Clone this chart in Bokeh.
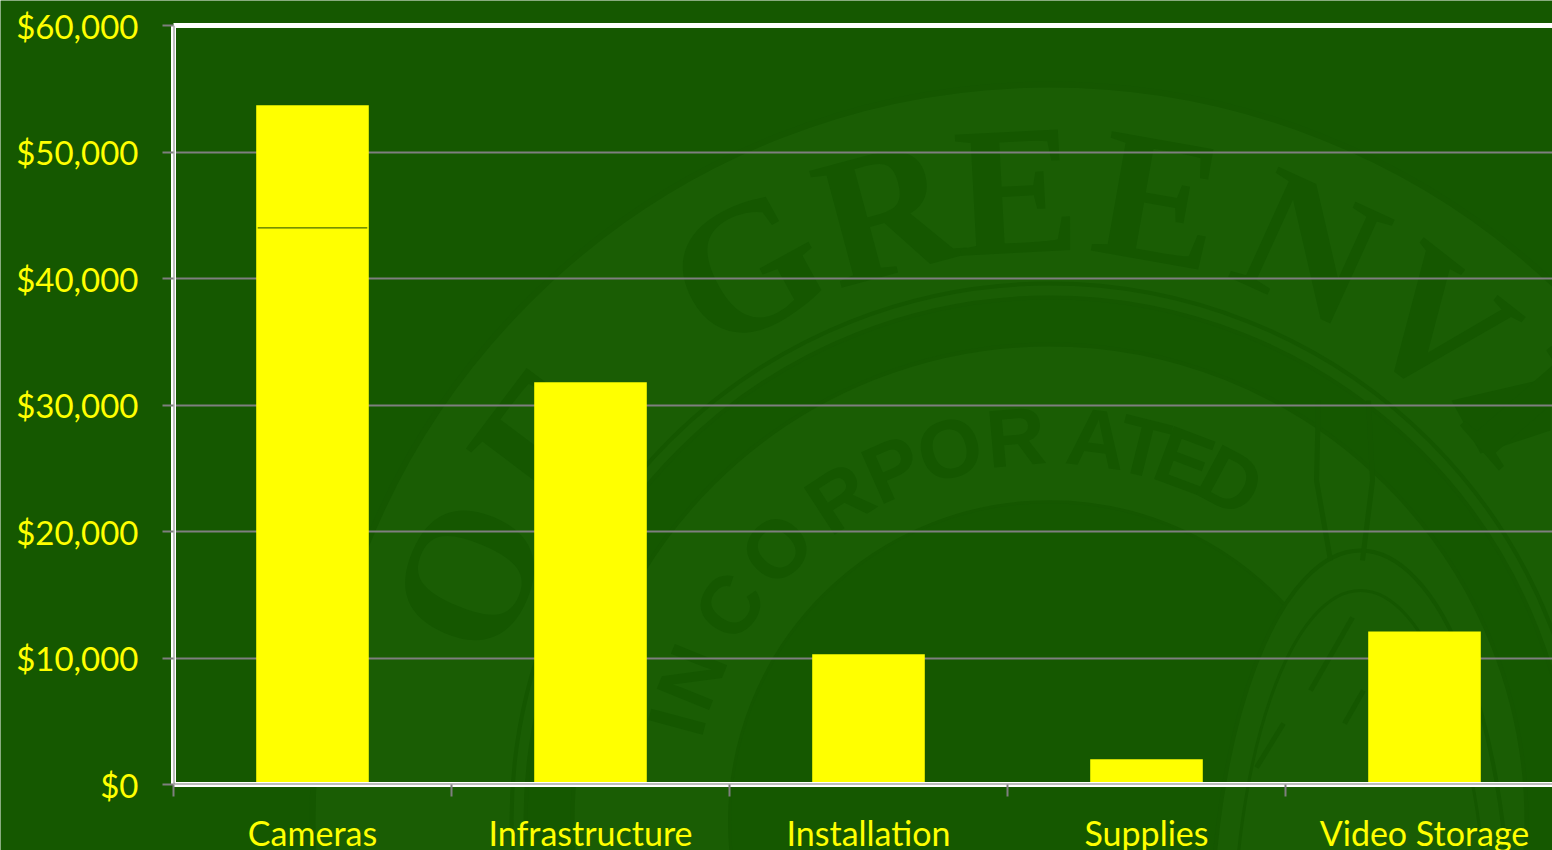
import math

from bokeh.core.properties import value
from bokeh.embed import file_html
from bokeh.models import FixedTicker, LinearAxis, NumeralTickFormatter, Range1d, Span
from bokeh.plotting import figure
from bokeh.resources import INLINE

# Spending by category
categories = ["Cameras", "Infrastructure", "Installation", "Supplies", "Video Storage"]
base_spend = [44000, 31800, 10300, 2000, 12100]
extra_spend = [9700, 0, 0, 0, 0]
y_ticks = [0, 10000, 20000, 30000, 40000, 50000, 60000]

# City seal wording, each letter with its bearing in degrees around the seal
seal_outer_letters = list("OFGREENVI")
seal_outer_angles = [157, 143, 118.7, 105, 93, 80, 65.5, 52, 41]
seal_inner_letters = list("INCORPORATED")
seal_inner_angles = [165, 158, 146, 135, 123, 114, 105, 95, 83, 76, 69.5, 62]

PAGE_W, PAGE_H = 1552, 850
BACKGROUND = "#155800"
SEAL_LIGHT = "#1a5d04"
SEAL_DARK = "#155700"
YELLOW = "#ffff00"
GRAY = "#7f7f7f"
LABEL_FONT = "Lato"

# Full-page layer that carries the faint seal behind the chart
seal = figure(
    width=PAGE_W, height=PAGE_H, output_backend="svg", toolbar_location=None,
    x_range=Range1d(0, PAGE_W), y_range=Range1d(PAGE_H, 0),
    min_border=0, background_fill_color=BACKGROUND, border_fill_color=BACKGROUND,
    outline_line_color=None, styles={"position": "absolute", "left": "0", "top": "0"},
)
seal.axis.visible = False
seal.grid.visible = False

cx, cy = 1049, 821
seal.circle([cx], [cy], radius=737, fill_color=SEAL_LIGHT, line_color=SEAL_DARK, line_width=6)
seal.circle([cx], [cy], radius=538, fill_color=SEAL_LIGHT, line_color=SEAL_DARK, line_width=4)
seal.circle([cx], [cy], radius=524, fill_color=BACKGROUND, line_color=SEAL_DARK, line_width=4)
seal.circle([cx], [cy], radius=477, fill_color=SEAL_LIGHT, line_color=SEAL_DARK, line_width=4)
seal.circle([cx], [cy], radius=320, fill_color=BACKGROUND, line_color=SEAL_DARK, line_width=3)

# Wheat sheaf on the right of the seal
seal.ellipse([1360], [950], width=300, height=800, fill_color=SEAL_LIGHT,
             line_color=SEAL_DARK, line_width=4)
seal.ellipse([1360], [960], width=255, height=740, fill_color=SEAL_LIGHT,
             line_color=SEAL_DARK, line_width=3)
seal.multi_line(
    [[1318, 1316, 1330], [1368, 1372, 1362], [1310, 1352], [1344, 1363], [1256, 1283]],
    [[400, 480, 560], [400, 480, 560], [690, 617], [723, 690], [767, 723]],
    line_color=SEAL_DARK, line_width=5,
)
seal.patch([1451, 1550, 1550, 1480], [400, 377, 430, 453], fill_color=SEAL_DARK, line_color=None)


def ring_text(letters, angles, radius, size, font, style):
    xs = [cx + radius * math.cos(math.radians(a)) for a in angles]
    ys = [cy - radius * math.sin(math.radians(a)) for a in angles]
    turns = [math.radians(a - 90) for a in angles]
    seal.text(xs, ys, text=letters, angle=turns, text_font=value(font), text_font_style=style,
              text_font_size=size, text_color=SEAL_DARK, text_align="center",
              text_baseline="middle")


ring_text(seal_outer_letters, seal_outer_angles, 632, "185px", "Liberation Serif", "bold")
ring_text(seal_inner_letters, seal_inner_angles, 386, "82px", "Liberation Sans", "bold")

# Chart layer: one unit on x is one category slot
x_positions = [i + 0.5 for i in range(len(categories))]
slot_px = 278
p = figure(
    output_backend="svg", toolbar_location=None,
    frame_width=PAGE_W - 173, frame_height=759,
    x_range=Range1d(0, (PAGE_W - 173) / slot_px), y_range=Range1d(0, 60000),
    min_border_left=173, min_border_right=0, min_border_top=25, min_border_bottom=0,
    background_fill_alpha=0, border_fill_alpha=0, outline_line_color=None,
    styles={"position": "absolute", "left": "0", "top": "0"},
)

p.vbar(x=x_positions, top=base_spend, bottom=0, width=0.405, fill_color=YELLOW, line_color=None)
p.vbar(x=x_positions, top=[b + e for b, e in zip(base_spend, extra_spend)], bottom=base_spend,
       width=0.405, fill_color=YELLOW, line_color=None)
# Divider where the Cameras bar changes series
p.segment(x0=[x_positions[0] - 0.197], x1=[x_positions[0] + 0.197],
          y0=[base_spend[0]], y1=[base_spend[0]], line_color="#1f4a00", line_width=1)

p.ygrid.ticker = FixedTicker(ticks=y_ticks)
p.ygrid.grid_line_color = GRAY
p.ygrid.grid_line_width = 2
p.xgrid.visible = False

yax = p.yaxis[0]
yax.ticker = FixedTicker(ticks=y_ticks)
yax.formatter = NumeralTickFormatter(format="$0,0")
yax.major_label_text_color = YELLOW
yax.major_label_text_font = LABEL_FONT
yax.major_label_text_font_size = "33px"
yax.major_label_standoff = 24
yax.major_tick_line_color = GRAY
yax.major_tick_line_width = 2
yax.major_tick_out = 11
yax.major_tick_in = 0
yax.minor_tick_line_color = None
yax.axis_line_color = "white"
yax.axis_line_width = 5

xax = p.xaxis[0]
xax.ticker = FixedTicker(ticks=x_positions, minor_ticks=list(range(len(categories) + 1)))
xax.major_label_overrides = dict(zip(x_positions, categories))
xax.major_label_text_color = YELLOW
xax.major_label_text_font = LABEL_FONT
xax.major_label_text_font_size = "34px"
xax.major_label_standoff = 15
xax.major_tick_line_color = None
xax.minor_tick_line_color = GRAY
xax.minor_tick_line_width = 2
xax.minor_tick_out = 12
xax.minor_tick_in = 0
xax.axis_line_color = "white"
xax.axis_line_width = 5

# Heavy white rule along the top of the plot area
top_rule = LinearAxis(ticker=FixedTicker(ticks=[]), axis_line_color="white", axis_line_width=5,
                      major_tick_line_color=None, minor_tick_line_color=None)
p.add_layout(top_rule, "above")

# Gray core of the double axis rules
p.add_layout(Span(location=0, dimension="width", line_color=GRAY, line_width=2))
p.add_layout(Span(location=0, dimension="height", line_color=GRAY, line_width=2))

open("out.html", "w").write(file_html((seal, p), INLINE))
